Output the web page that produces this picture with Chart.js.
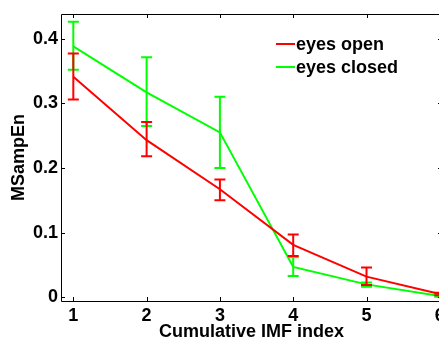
<!DOCTYPE html>
<html>
<head>
<meta charset="utf-8">
<script src="https://cdn.jsdelivr.net/npm/chart.js@4"></script>
<style>
  html, body { margin: 0; padding: 0; background: #fff; overflow: hidden; }
  #wrap { width: 439px; height: 340px; overflow: hidden; }
  canvas { display: block; }
</style>
</head>
<body>
<div id="wrap"><canvas id="c" width="480" height="340"></canvas></div>
<script>
// Cumulative IMF index (x positions)
const imfIndex = [1, 2, 3, 4, 5, 6];

// Mean MSampEn with lower / upper error limits, eyes open
const openMean  = [0.341, 0.243, 0.167, 0.081, 0.032, 0.005];
const openLow   = [0.306, 0.218, 0.150, 0.064, 0.019, 0.003];
const openHigh  = [0.377, 0.271, 0.182, 0.097, 0.046, 0.007];

// Mean MSampEn with lower / upper error limits, eyes closed
const closedMean = [0.388, 0.317, 0.255, 0.047, 0.020, 0.002];
const closedLow  = [0.352, 0.265, 0.200, 0.033, 0.0165, 0.001];
const closedHigh = [0.426, 0.371, 0.310, 0.062, 0.023, 0.003];

// Axis ticks
const xTicks = [1, 2, 3, 4, 5, 6];
const yTicks = [0, 0.1, 0.2, 0.3, 0.4];
const yTickLabels = ['0', '0.1', '0.2', '0.3', '0.4'];

const seriesNames = ['eyes open', 'eyes closed'];
const RED = '#ff0000';
const GREEN = '#00ff00';
const FAMILY = '"Liberation Sans", Arial, Helvetica, sans-serif';
const FONT = { family: FAMILY, size: 18, weight: 'bold', lineHeight: 1 };
const XTITLE_FONT = { family: FAMILY, size: 18, weight: 'bold', lineHeight: 0.85 };

const pts = (ys) => imfIndex.map((x, i) => ({ x: x, y: ys[i] }));

// Error bars with caps, drawn through the chart scales
const errorBars = {
  id: 'errorBars',
  afterDatasetsDraw(chart) {
    const { ctx, scales: { x, y } } = chart;
    const groups = [
      { low: closedLow, high: closedHigh, color: GREEN },
      { low: openLow, high: openHigh, color: RED }
    ];
    const cap = 5.5;
    ctx.save();
    ctx.lineWidth = 2;
    groups.forEach(g => {
      ctx.strokeStyle = g.color;
      imfIndex.forEach((v, i) => {
        const px = x.getPixelForValue(v);
        const y1 = y.getPixelForValue(g.low[i]);
        const y2 = y.getPixelForValue(g.high[i]);
        ctx.beginPath();
        ctx.moveTo(px, y1); ctx.lineTo(px, y2);
        ctx.moveTo(px - cap, y1); ctx.lineTo(px + cap, y1);
        ctx.moveTo(px - cap, y2); ctx.lineTo(px + cap, y2);
        ctx.stroke();
      });
    });
    ctx.restore();
  }
};

// Axes box with inward tick marks on all four sides
const boxAndTicks = {
  id: 'boxAndTicks',
  afterDraw(chart) {
    const { ctx, chartArea: a, scales: { x, y } } = chart;
    const len = 4;
    ctx.save();
    ctx.strokeStyle = '#000';
    ctx.lineWidth = 1;
    ctx.beginPath();
    ctx.rect(Math.round(a.left) + 0.5, Math.round(a.top) + 0.5,
             Math.round(a.right - a.left), Math.round(a.bottom - a.top));
    ctx.stroke();
    ctx.beginPath();
    xTicks.forEach(v => {
      const px = Math.round(x.getPixelForValue(v)) + 0.5;
      ctx.moveTo(px, a.bottom); ctx.lineTo(px, a.bottom - len);
      ctx.moveTo(px, a.top); ctx.lineTo(px, a.top + len);
    });
    yTicks.forEach(v => {
      const py = Math.round(y.getPixelForValue(v)) + 0.5;
      ctx.moveTo(a.left, py); ctx.lineTo(a.left + len, py);
      ctx.moveTo(a.right, py); ctx.lineTo(a.right - len, py);
    });
    ctx.stroke();
    ctx.restore();
  }
};

// Legend in the upper right of the plot area
const insideLegend = {
  id: 'insideLegend',
  afterDraw(chart) {
    const { ctx } = chart;
    const colors = [RED, GREEN];
    const x0 = 276, x1 = 295, rowY = [44, 67];
    ctx.save();
    ctx.font = `bold ${FONT.size}px ${FONT.family}`;
    ctx.textBaseline = 'middle';
    ctx.textAlign = 'left';
    seriesNames.forEach((name, i) => {
      ctx.strokeStyle = colors[i];
      ctx.lineWidth = 2;
      ctx.beginPath();
      ctx.moveTo(x0, rowY[i]); ctx.lineTo(x1, rowY[i]);
      ctx.stroke();
      ctx.fillStyle = '#000';
      ctx.fillText(name, x1 + 1, rowY[i] + 1);
    });
    ctx.restore();
  }
};

new Chart(document.getElementById('c'), {
  type: 'line',
  data: {
    datasets: [
      { label: seriesNames[0], data: pts(openMean), borderColor: RED, borderWidth: 2, pointRadius: 0, fill: false, tension: 0 },
      { label: seriesNames[1], data: pts(closedMean), borderColor: GREEN, borderWidth: 2, pointRadius: 0, fill: false, tension: 0 }
    ]
  },
  options: {
    responsive: false,
    devicePixelRatio: 1,
    animation: false,
    events: [],
    layout: { padding: { left: 0, top: 14, right: 38, bottom: 0 } },
    plugins: { legend: { display: false }, tooltip: { enabled: false } },
    scales: {
      x: {
        type: 'linear',
        min: 0.832,
        max: 6.03,
        afterBuildTicks: s => { s.ticks = xTicks.map(v => ({ value: v })); },
        afterFit: s => { s.height = 39; },
        grid: { display: false, drawTicks: false },
        border: { display: false },
        ticks: { color: '#000', font: FONT, padding: 6, maxRotation: 0, autoSkip: false, callback: v => String(v) },
        title: { display: true, text: 'Cumulative IMF index', color: '#000', font: XTITLE_FONT, padding: { top: 0, bottom: 0 } }
      },
      y: {
        type: 'linear',
        min: -0.0057,
        max: 0.438,
        afterBuildTicks: s => { s.ticks = yTicks.map(v => ({ value: v })); },
        afterFit: s => { s.width = 61; },
        grid: { display: false, drawTicks: false },
        border: { display: false },
        ticks: { color: '#000', font: FONT, padding: 3, autoSkip: false,
                 callback: (v) => { const i = yTicks.indexOf(v); return i >= 0 ? yTickLabels[i] : ''; } },
        title: { display: true, text: 'MSampEn', color: '#000', font: FONT, padding: { top: 10, bottom: 0 } }
      }
    }
  },
  plugins: [errorBars, boxAndTicks, insideLegend]
});
</script>
</body>
</html>
